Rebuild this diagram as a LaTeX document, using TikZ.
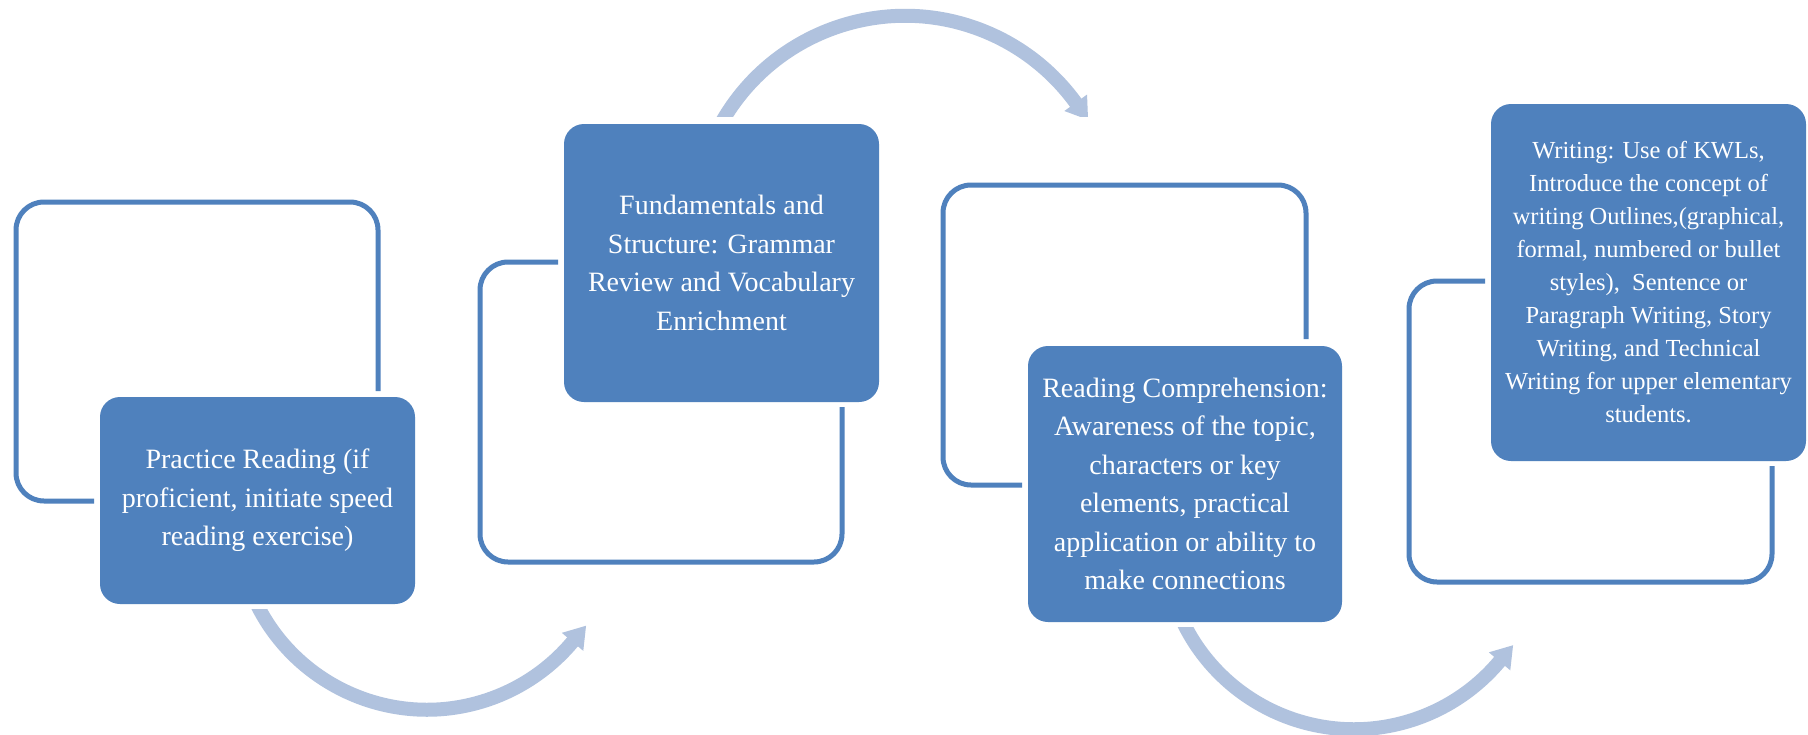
\documentclass[tikz,border=0pt]{standalone}
\usepackage{fontspec}
\setmainfont{Liberation Serif}
\usetikzlibrary{calc}
\definecolor{boxblue}{RGB}{79,129,189}
\definecolor{arrowblue}{RGB}{176,194,222}
\begin{document}
\begin{tikzpicture}[x=1pt,y=1pt,
  outline/.style={draw=boxblue, line width=5pt, rounded corners=28pt},
  solidbox/.style={fill=boxblue, rounded corners=20pt, text=white, align=center, inner sep=0pt},
  bigtext/.style={font=\fontsize{28}{38.5}\selectfont},
  smalltext/.style={font=\fontsize{24.5}{33}\selectfont},
  band/.style={draw=arrowblue, line width=14pt, line cap=butt},
  head/.style={fill=arrowblue}]
\fill[white] (0,0) rectangle (1808,-734);
\useasboundingbox (0,0) rectangle (1808,-734);

% open frames behind the boxes
\draw[outline] (94,-501) -- (16,-501) -- (16,-202) -- (378,-202) -- (378,-391);
\draw[outline] (558,-262) -- (480,-262) -- (480,-562) -- (842,-562) -- (842,-407);
\draw[outline] (1022,-485) -- (943,-485) -- (943,-185) -- (1306,-185) -- (1306,-339);
\draw[outline] (1485,-281) -- (1409,-281) -- (1409,-582) -- (1772,-582) -- (1772,-466);

% filled boxes
\node[solidbox, bigtext, minimum width=315pt, minimum height=207pt] (b1) at (257.5,-500.5)
  {Practice Reading (if\\ proficient, initiate speed\\ reading exercise)};
\node[solidbox, bigtext, minimum width=315pt, minimum height=278pt] (b2) at (721.5,-263)
  {Fundamentals and\\ Structure: Grammar\\ Review and Vocabulary\\ Enrichment};
\node[solidbox, bigtext, minimum width=314pt, minimum height=276pt] (b3) at (1185,-484)
  {Reading Comprehension:\\ Awareness of the topic,\\ characters or key\\ elements, practical\\ application or ability to\\ make connections};
\node[solidbox, smalltext, minimum width=315pt, minimum height=357pt] (b4) at (1648.5,-282.5)
  {Writing: Use of KWLs,\\ Introduce the concept of\\ writing Outlines,(graphical,\\ formal, numbered or bullet\\ styles),\ \ Sentence or\\ Paragraph Writing, Story\\ Writing, and Technical\\ Writing for upper elementary\\ students.};

% arc centres of the curved arrows
\coordinate (c1) at ($(b1.south)+(169.5,84.5)$);
\coordinate (c2) at ($(b2.north)+(183.5,-103)$);
\coordinate (c3) at ($(b3.south)+(169,83)$);

% arrow b1 -> b2
\begin{scope}
\clip ($(b1.south)+(-300,-5)$) rectangle ($(b1.south)+(600,-200)$);
\draw[band] ($(c1)+(200:190)$) arc[start angle=200, end angle=321, radius=190];
\fill[head] ($(c1)+(320:176)$) -- ($(c1)+(320:204)$) -- ($(c1)+(320:190)+(50:21)$) -- cycle;
\end{scope}

% arrow b2 -> b3
\begin{scope}
\clip ($(b2.north)+(-300,7)$) rectangle ($(b2.north)+(600,200)$);
\draw[band] ($(c2)+(155:211)$) arc[start angle=155, end angle=35, radius=211];
\fill[head] ($(c2)+(36:197)$) -- ($(c2)+(36:225)$) -- ($(c2)+(36:211)+(-54:21)$) -- cycle;
\end{scope}

% arrow b3 -> b4
\begin{scope}
\clip ($(b3.south)+(-300,-5)$) rectangle ($(b3.south)+(600,-200)$);
\draw[band] ($(c3)+(200:190)$) arc[start angle=200, end angle=321, radius=190];
\fill[head] ($(c3)+(320:176)$) -- ($(c3)+(320:204)$) -- ($(c3)+(320:190)+(50:21)$) -- cycle;
\end{scope}
\end{tikzpicture}
\end{document}
